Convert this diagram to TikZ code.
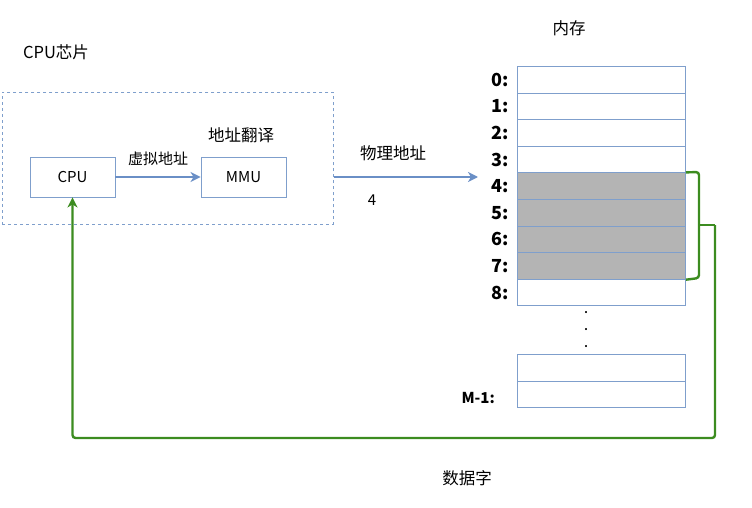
\documentclass[tikz,border=0pt]{standalone}
\usepackage{fontspec}
\setmainfont{Noto Sans CJK SC}
\usetikzlibrary{arrows.meta}
\definecolor{boxblue}{HTML}{7F9FCC}
\definecolor{arrblue}{HTML}{6A8FC6}
\definecolor{dgreen}{HTML}{3C8C20}
\definecolor{cellgray}{HTML}{B4B4B4}
\tikzset{
  unitbox/.style={draw=boxblue, line width=0.9pt, minimum width=85pt, minimum height=40pt, inner sep=0pt, font=\fontsize{15}{15}\selectfont},
  cell/.style={draw=boxblue, line width=0.9pt, minimum width=168pt, minimum height=26.6pt, inner sep=0pt, anchor=north west},
  shaded/.style={cell, fill=cellgray},
  addr/.style={font=\fontsize{18}{18}\selectfont\bfseries, anchor=east, inner sep=0pt},
  lbl/.style={font=\fontsize{14}{14}\selectfont, inner sep=0pt},
  cjk/.style={font=\fontsize{16.5}{16.5}\selectfont, inner sep=0pt},
  barrow/.style={draw=arrblue, line width=2pt, -{Stealth[length=10pt,width=10pt,inset=3pt]}},
  garrow/.style={draw=dgreen, line width=2.4pt, rounded corners=3pt}
}
\begin{document}
\begin{tikzpicture}[x=1pt,y=-1pt]
\useasboundingbox (0,0) rectangle (752,508);
% chip
\node[cjk] (chiplbl) at (56,52) {CPU芯片};
\node[draw=boxblue, dashed, line width=0.8pt, minimum width=331pt, minimum height=132pt, inner sep=0pt, anchor=north west] (chip) at (2,92) {};
\node[unitbox] (cpu) at (72.5,177) {CPU};
\node[unitbox] (mmu) at (243.5,177) {MMU};
\node[cjk] (mmulbl) at (241,135) {地址翻译};
\draw[barrow] (cpu) -- node[inner sep=0pt, above=10pt, font=\fontsize{15}{15}\selectfont] (vlbl) {虚拟地址} (mmu);
% physical address
\coordinate (pend) at (478,177);
\draw[barrow] (chip.east |- pend) -- (pend);
\node[cjk] (plbl) at (393,153) {物理地址};
\node[lbl, font=\fontsize{15}{15}\selectfont] (four) at (372,200) {4};
% memory
\node[cjk] (memlbl) at (569,28) {内存};
\foreach \i/\s in {0/cell,1/cell,2/cell,3/cell,4/shaded,5/shaded,6/shaded,7/shaded,8/cell}{
  \node[\s] (m\i) at (517,{66+26.6*\i}) {};
  \node[addr] (a\i) at ([xshift=-8pt]m\i.west) {\i:};
}
\node[inner sep=0pt] (d1) at (586,313) {\textbf{.}};
\node[inner sep=0pt] (d2) at (586,330) {\textbf{.}};
\node[inner sep=0pt] (d3) at (586,347) {\textbf{.}};
\node[cell] (mA) at (517,354) {};
\node[cell] (mB) at (517,380.6) {};
\node[font=\fontsize{15}{15}\selectfont\bfseries, inner sep=0pt, anchor=east] (mlbl) at ([xshift=-22pt,yshift=-4pt]mB.west) {M-1:};
% bracket and data path
\coordinate (bmid) at (715,225);
\draw[garrow] (m4.north east) -- (699,172) -- (699,278) -- (m7.south east);
\draw[dgreen, line width=2.4pt] (699,225) -- (bmid);
\draw[garrow, -{Stealth[length=10pt,width=10pt,inset=3pt]}] (bmid) -- (715,438) -- (cpu.south |- 0,438) -- (cpu.south);
\node[cjk] (dlbl) at (467,478) {数据字};
\end{tikzpicture}
\end{document}
